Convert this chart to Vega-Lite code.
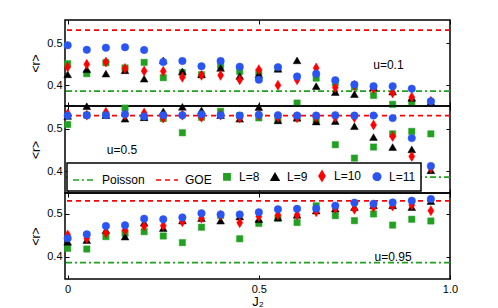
{
  "$schema": "https://vega.github.io/schema/vega-lite/v6.json",
  "padding": {"left": 28, "top": 18, "right": 5, "bottom": 0},
  "config": {
    "view": {"stroke": "black", "strokeWidth": 1.5},
    "font": "Liberation Sans",
    "axis": {"labelFont": "Liberation Sans", "labelFontSize": 11, "titleFont": "Liberation Sans", "titleFontSize": 12, "titleFontWeight": "normal", "labelColor": "black", "titleColor": "black", "tickColor": "black", "tickWidth": 1, "grid": false, "domain": false, "labelFlush": false},
    "legend": {"labelFont": "Liberation Sans", "labelFontSize": 12, "labelColor": "black", "strokeWidth": 1.5},
    "text": {"font": "Liberation Sans", "fontSize": 12}
  },
  "datasets": {
    "lines": [{"s": "Poisson", "r": 0.3863}, {"s": "GOE", "r": 0.5307}],
    "top": [
      {"j": 0, "r": 0.451, "s": "L=8"}, {"j": 0.05, "r": 0.4275, "s": "L=8"}, {"j": 0.1, "r": 0.4535, "s": "L=8"}, {"j": 0.15, "r": 0.441, "s": "L=8"}, {"j": 0.2, "r": 0.4543, "s": "L=8"}, {"j": 0.25, "r": 0.418, "s": "L=8"}, {"j": 0.3, "r": 0.43, "s": "L=8"}, {"j": 0.35, "r": 0.425, "s": "L=8"}, {"j": 0.4, "r": 0.447, "s": "L=8"}, {"j": 0.45, "r": 0.433, "s": "L=8"}, {"j": 0.5, "r": 0.43, "s": "L=8"}, {"j": 0.55, "r": 0.44, "s": "L=8"}, {"j": 0.6, "r": 0.358, "s": "L=8"}, {"j": 0.65, "r": 0.417, "s": "L=8"}, {"j": 0.7, "r": 0.406, "s": "L=8"}, {"j": 0.75, "r": 0.396, "s": "L=8"}, {"j": 0.8, "r": 0.376, "s": "L=8"}, {"j": 0.85, "r": 0.355, "s": "L=8"}, {"j": 0.9, "r": 0.36, "s": "L=8"}, {"j": 0.95, "r": 0.36, "s": "L=8"},
      {"j": 0, "r": 0.426, "s": "L=9"}, {"j": 0.05, "r": 0.438, "s": "L=9"}, {"j": 0.1, "r": 0.4275, "s": "L=9"}, {"j": 0.15, "r": 0.4355, "s": "L=9"}, {"j": 0.2, "r": 0.4155, "s": "L=9"}, {"j": 0.25, "r": 0.459, "s": "L=9"}, {"j": 0.3, "r": 0.433, "s": "L=9"}, {"j": 0.35, "r": 0.426, "s": "L=9"}, {"j": 0.4, "r": 0.441, "s": "L=9"}, {"j": 0.45, "r": 0.422, "s": "L=9"}, {"j": 0.5, "r": 0.426, "s": "L=9"}, {"j": 0.55, "r": 0.439, "s": "L=9"}, {"j": 0.6, "r": 0.459, "s": "L=9"}, {"j": 0.65, "r": 0.398, "s": "L=9"}, {"j": 0.7, "r": 0.384, "s": "L=9"}, {"j": 0.75, "r": 0.379, "s": "L=9"}, {"j": 0.8, "r": 0.395, "s": "L=9"}, {"j": 0.85, "r": 0.385, "s": "L=9"}, {"j": 0.9, "r": 0.37, "s": "L=9"}, {"j": 0.95, "r": 0.36, "s": "L=9"},
      {"j": 0, "r": 0.443, "s": "L=10"}, {"j": 0.05, "r": 0.4495, "s": "L=10"}, {"j": 0.1, "r": 0.455, "s": "L=10"}, {"j": 0.15, "r": 0.44, "s": "L=10"}, {"j": 0.2, "r": 0.434, "s": "L=10"}, {"j": 0.25, "r": 0.433, "s": "L=10"}, {"j": 0.3, "r": 0.419, "s": "L=10"}, {"j": 0.35, "r": 0.4235, "s": "L=10"}, {"j": 0.4, "r": 0.4235, "s": "L=10"}, {"j": 0.45, "r": 0.413, "s": "L=10"}, {"j": 0.5, "r": 0.437, "s": "L=10"}, {"j": 0.55, "r": 0.4, "s": "L=10"}, {"j": 0.6, "r": 0.413, "s": "L=10"}, {"j": 0.65, "r": 0.441, "s": "L=10"}, {"j": 0.7, "r": 0.3945, "s": "L=10"}, {"j": 0.75, "r": 0.4, "s": "L=10"}, {"j": 0.8, "r": 0.392, "s": "L=10"}, {"j": 0.85, "r": 0.382, "s": "L=10"}, {"j": 0.9, "r": 0.372, "s": "L=10"}, {"j": 0.95, "r": 0.362, "s": "L=10"},
      {"j": 0, "r": 0.4945, "s": "L=11"}, {"j": 0.05, "r": 0.484, "s": "L=11"}, {"j": 0.1, "r": 0.489, "s": "L=11"}, {"j": 0.15, "r": 0.49, "s": "L=11"}, {"j": 0.2, "r": 0.4835, "s": "L=11"}, {"j": 0.25, "r": 0.455, "s": "L=11"}, {"j": 0.3, "r": 0.4575, "s": "L=11"}, {"j": 0.35, "r": 0.445, "s": "L=11"}, {"j": 0.4, "r": 0.4575, "s": "L=11"}, {"j": 0.45, "r": 0.444, "s": "L=11"}, {"j": 0.5, "r": 0.413, "s": "L=11"}, {"j": 0.55, "r": 0.443, "s": "L=11"}, {"j": 0.6, "r": 0.421, "s": "L=11"}, {"j": 0.65, "r": 0.4275, "s": "L=11"}, {"j": 0.7, "r": 0.412, "s": "L=11"}, {"j": 0.75, "r": 0.402, "s": "L=11"}, {"j": 0.8, "r": 0.398, "s": "L=11"}, {"j": 0.85, "r": 0.3975, "s": "L=11"}, {"j": 0.9, "r": 0.392, "s": "L=11"}, {"j": 0.95, "r": 0.362, "s": "L=11"}
    ],
    "mid": [
      {"j": 0, "r": 0.51, "s": "L=8"}, {"j": 0.05, "r": 0.532, "s": "L=8"}, {"j": 0.1, "r": 0.532, "s": "L=8"}, {"j": 0.15, "r": 0.5486, "s": "L=8"}, {"j": 0.2, "r": 0.527, "s": "L=8"}, {"j": 0.25, "r": 0.524, "s": "L=8"}, {"j": 0.3, "r": 0.4906, "s": "L=8"}, {"j": 0.35, "r": 0.527, "s": "L=8"}, {"j": 0.4, "r": 0.541, "s": "L=8"}, {"j": 0.45, "r": 0.531, "s": "L=8"}, {"j": 0.5, "r": 0.5256, "s": "L=8"}, {"j": 0.55, "r": 0.52, "s": "L=8"}, {"j": 0.6, "r": 0.527, "s": "L=8"}, {"j": 0.65, "r": 0.52, "s": "L=8"}, {"j": 0.7, "r": 0.4625, "s": "L=8"}, {"j": 0.75, "r": 0.431, "s": "L=8"}, {"j": 0.8, "r": 0.457, "s": "L=8"}, {"j": 0.85, "r": 0.488, "s": "L=8"}, {"j": 0.9, "r": 0.4938, "s": "L=8"}, {"j": 0.95, "r": 0.488, "s": "L=8"},
      {"j": 0, "r": 0.53, "s": "L=9"}, {"j": 0.05, "r": 0.553, "s": "L=9"}, {"j": 0.1, "r": 0.532, "s": "L=9"}, {"j": 0.15, "r": 0.5235, "s": "L=9"}, {"j": 0.2, "r": 0.527, "s": "L=9"}, {"j": 0.25, "r": 0.541, "s": "L=9"}, {"j": 0.3, "r": 0.5516, "s": "L=9"}, {"j": 0.35, "r": 0.543, "s": "L=9"}, {"j": 0.4, "r": 0.532, "s": "L=9"}, {"j": 0.45, "r": 0.5235, "s": "L=9"}, {"j": 0.5, "r": 0.551, "s": "L=9"}, {"j": 0.55, "r": 0.5197, "s": "L=9"}, {"j": 0.6, "r": 0.5256, "s": "L=9"}, {"j": 0.65, "r": 0.517, "s": "L=9"}, {"j": 0.7, "r": 0.518, "s": "L=9"}, {"j": 0.75, "r": 0.506, "s": "L=9"}, {"j": 0.8, "r": 0.4805, "s": "L=9"}, {"j": 0.85, "r": 0.457, "s": "L=9"}, {"j": 0.9, "r": 0.4516, "s": "L=9"}, {"j": 0.95, "r": 0.4024, "s": "L=9"},
      {"j": 0, "r": 0.535, "s": "L=10"}, {"j": 0.05, "r": 0.532, "s": "L=10"}, {"j": 0.1, "r": 0.539, "s": "L=10"}, {"j": 0.15, "r": 0.532, "s": "L=10"}, {"j": 0.2, "r": 0.537, "s": "L=10"}, {"j": 0.25, "r": 0.525, "s": "L=10"}, {"j": 0.3, "r": 0.532, "s": "L=10"}, {"j": 0.35, "r": 0.527, "s": "L=10"}, {"j": 0.4, "r": 0.532, "s": "L=10"}, {"j": 0.45, "r": 0.525, "s": "L=10"}, {"j": 0.5, "r": 0.532, "s": "L=10"}, {"j": 0.55, "r": 0.527, "s": "L=10"}, {"j": 0.6, "r": 0.5256, "s": "L=10"}, {"j": 0.65, "r": 0.527, "s": "L=10"}, {"j": 0.7, "r": 0.527, "s": "L=10"}, {"j": 0.75, "r": 0.5265, "s": "L=10"}, {"j": 0.8, "r": 0.509, "s": "L=10"}, {"j": 0.85, "r": 0.482, "s": "L=10"}, {"j": 0.9, "r": 0.435, "s": "L=10"}, {"j": 0.95, "r": 0.408, "s": "L=10"},
      {"j": 0, "r": 0.531, "s": "L=11"}, {"j": 0.05, "r": 0.532, "s": "L=11"}, {"j": 0.1, "r": 0.532, "s": "L=11"}, {"j": 0.15, "r": 0.534, "s": "L=11"}, {"j": 0.2, "r": 0.529, "s": "L=11"}, {"j": 0.25, "r": 0.532, "s": "L=11"}, {"j": 0.3, "r": 0.532, "s": "L=11"}, {"j": 0.35, "r": 0.534, "s": "L=11"}, {"j": 0.4, "r": 0.532, "s": "L=11"}, {"j": 0.45, "r": 0.531, "s": "L=11"}, {"j": 0.5, "r": 0.533, "s": "L=11"}, {"j": 0.55, "r": 0.532, "s": "L=11"}, {"j": 0.6, "r": 0.531, "s": "L=11"}, {"j": 0.65, "r": 0.531, "s": "L=11"}, {"j": 0.7, "r": 0.532, "s": "L=11"}, {"j": 0.75, "r": 0.531, "s": "L=11"}, {"j": 0.8, "r": 0.531, "s": "L=11"}, {"j": 0.85, "r": 0.525, "s": "L=11"}, {"j": 0.9, "r": 0.478, "s": "L=11"}, {"j": 0.95, "r": 0.4124, "s": "L=11"}
    ],
    "bot": [
      {"j": 0, "r": 0.4197, "s": "L=8"}, {"j": 0.05, "r": 0.418, "s": "L=8"}, {"j": 0.1, "r": 0.447, "s": "L=8"}, {"j": 0.15, "r": 0.455, "s": "L=8"}, {"j": 0.2, "r": 0.4586, "s": "L=8"}, {"j": 0.25, "r": 0.4485, "s": "L=8"}, {"j": 0.3, "r": 0.433, "s": "L=8"}, {"j": 0.35, "r": 0.469, "s": "L=8"}, {"j": 0.4, "r": 0.4965, "s": "L=8"}, {"j": 0.45, "r": 0.442, "s": "L=8"}, {"j": 0.5, "r": 0.478, "s": "L=8"}, {"j": 0.55, "r": 0.49, "s": "L=8"}, {"j": 0.6, "r": 0.48, "s": "L=8"}, {"j": 0.65, "r": 0.519, "s": "L=8"}, {"j": 0.7, "r": 0.496, "s": "L=8"}, {"j": 0.75, "r": 0.4843, "s": "L=8"}, {"j": 0.8, "r": 0.5, "s": "L=8"}, {"j": 0.85, "r": 0.474, "s": "L=8"}, {"j": 0.9, "r": 0.4876, "s": "L=8"}, {"j": 0.95, "r": 0.4836, "s": "L=8"},
      {"j": 0, "r": 0.435, "s": "L=9"}, {"j": 0.05, "r": 0.439, "s": "L=9"}, {"j": 0.1, "r": 0.462, "s": "L=9"}, {"j": 0.15, "r": 0.447, "s": "L=9"}, {"j": 0.2, "r": 0.4797, "s": "L=9"}, {"j": 0.25, "r": 0.467, "s": "L=9"}, {"j": 0.3, "r": 0.4845, "s": "L=9"}, {"j": 0.35, "r": 0.49, "s": "L=9"}, {"j": 0.4, "r": 0.4843, "s": "L=9"}, {"j": 0.45, "r": 0.494, "s": "L=9"}, {"j": 0.5, "r": 0.4876, "s": "L=9"}, {"j": 0.55, "r": 0.4915, "s": "L=9"}, {"j": 0.6, "r": 0.498, "s": "L=9"}, {"j": 0.65, "r": 0.508, "s": "L=9"}, {"j": 0.7, "r": 0.5125, "s": "L=9"}, {"j": 0.75, "r": 0.516, "s": "L=9"}, {"j": 0.8, "r": 0.52, "s": "L=9"}, {"j": 0.85, "r": 0.52, "s": "L=9"}, {"j": 0.9, "r": 0.516, "s": "L=9"}, {"j": 0.95, "r": 0.53, "s": "L=9"},
      {"j": 0, "r": 0.451, "s": "L=10"}, {"j": 0.05, "r": 0.443, "s": "L=10"}, {"j": 0.1, "r": 0.456, "s": "L=10"}, {"j": 0.15, "r": 0.4625, "s": "L=10"}, {"j": 0.2, "r": 0.472, "s": "L=10"}, {"j": 0.25, "r": 0.4725, "s": "L=10"}, {"j": 0.3, "r": 0.482, "s": "L=10"}, {"j": 0.35, "r": 0.49, "s": "L=10"}, {"j": 0.4, "r": 0.497, "s": "L=10"}, {"j": 0.45, "r": 0.4797, "s": "L=10"}, {"j": 0.5, "r": 0.494, "s": "L=10"}, {"j": 0.55, "r": 0.4977, "s": "L=10"}, {"j": 0.6, "r": 0.4977, "s": "L=10"}, {"j": 0.65, "r": 0.505, "s": "L=10"}, {"j": 0.7, "r": 0.5125, "s": "L=10"}, {"j": 0.75, "r": 0.511, "s": "L=10"}, {"j": 0.8, "r": 0.5157, "s": "L=10"}, {"j": 0.85, "r": 0.5185, "s": "L=10"}, {"j": 0.9, "r": 0.521, "s": "L=10"}, {"j": 0.95, "r": 0.5078, "s": "L=10"},
      {"j": 0, "r": 0.443, "s": "L=11"}, {"j": 0.05, "r": 0.4524, "s": "L=11"}, {"j": 0.1, "r": 0.472, "s": "L=11"}, {"j": 0.15, "r": 0.4735, "s": "L=11"}, {"j": 0.2, "r": 0.489, "s": "L=11"}, {"j": 0.25, "r": 0.4875, "s": "L=11"}, {"j": 0.3, "r": 0.492, "s": "L=11"}, {"j": 0.35, "r": 0.5015, "s": "L=11"}, {"j": 0.4, "r": 0.499, "s": "L=11"}, {"j": 0.45, "r": 0.499, "s": "L=11"}, {"j": 0.5, "r": 0.504, "s": "L=11"}, {"j": 0.55, "r": 0.511, "s": "L=11"}, {"j": 0.6, "r": 0.512, "s": "L=11"}, {"j": 0.65, "r": 0.5125, "s": "L=11"}, {"j": 0.7, "r": 0.5195, "s": "L=11"}, {"j": 0.75, "r": 0.5265, "s": "L=11"}, {"j": 0.8, "r": 0.524, "s": "L=11"}, {"j": 0.85, "r": 0.527, "s": "L=11"}, {"j": 0.9, "r": 0.531, "s": "L=11"}, {"j": 0.95, "r": 0.535, "s": "L=11"}
    ]
  },
  "spacing": 0,
  "bounds": "flush",
  "vconcat": [
    {
      "width": 385, "height": 86,
      "layer": [
        {"data": {"name": "lines"}, "mark": {"type": "rule", "strokeWidth": 1.8},
         "encoding": {
           "y": {"field": "r", "type": "quantitative", "scale": {"domain": [0.351, 0.5545], "nice": false, "zero": false}, "axis": null},
           "stroke": {"field": "s", "type": "nominal", "scale": {"domain": ["Poisson", "GOE", "L=8", "L=9", "L=10", "L=11"], "range": ["#1fa01f", "#ff0000", "#22a022", "#000000", "#ff0000", "#2b55f2"]}, "legend": null},
           "strokeDash": {"field": "s", "type": "nominal", "scale": {"domain": ["Poisson", "GOE", "L=8", "L=9", "L=10", "L=11"], "range": [[6, 3, 2, 3], [5, 4], [1, 0], [1, 0], [1, 0], [1, 0]]}, "legend": null}
         }},
        {"data": {"name": "top"}, "mark": {"type": "point", "filled": true, "opacity": 1, "strokeWidth": 0.5},
         "encoding": {
           "x": {"field": "j", "type": "quantitative", "scale": {"domain": [-0.007, 1], "nice": false, "zero": false}, "axis": {"values": [0, 0.5, 1], "tickSize": -4, "labels": false, "title": null}},
           "y": {"field": "r", "type": "quantitative", "axis": {"values": [0.4, 0.5], "format": ".1f", "tickSize": -4, "title": "<r>", "labelPadding": 7, "titlePadding": 4}},
           "fill": {"field": "s", "type": "nominal", "scale": {"domain": ["Poisson", "GOE", "L=8", "L=9", "L=10", "L=11"], "range": ["#1fa01f", "#ff0000", "#22a022", "#000000", "#ff0000", "#2b55f2"]}, "legend": null},
           "stroke": {"field": "s", "type": "nominal", "legend": null},
           "shape": {"field": "s", "type": "nominal", "scale": {"domain": ["Poisson", "GOE", "L=8", "L=9", "L=10", "L=11"], "range": ["stroke", "stroke", "square", "triangle-up", "M0,-1.25L0.75,0L0,1.25L-0.75,0Z", "circle"]}, "legend": null},
           "size": {"field": "s", "type": "nominal", "scale": {"type": "ordinal", "domain": ["Poisson", "GOE", "L=8", "L=9", "L=10", "L=11"], "range": [484, 484, 40, 60, 64, 56]}, "legend": null}
         }},
        {"data": {"values": [{"j": 0.839, "r": 0.449, "t": "u=0.1"}]}, "mark": {"type": "text", "baseline": "middle", "align": "center"},
         "encoding": {
           "x": {"field": "j", "type": "quantitative", "axis": {"orient": "top", "values": [0, 0.5, 1], "tickSize": -4, "labels": false, "title": null}},
           "y": {"field": "r", "type": "quantitative", "axis": {"orient": "right", "values": [0.4, 0.5], "tickSize": -4, "labels": false, "title": null}},
           "text": {"field": "t"}
         }}
      ],
      "resolve": {"axis": {"x": "independent", "y": "independent"}}
    },
    {
      "width": 385, "height": 87,
      "layer": [
        {"data": {"name": "lines"}, "mark": {"type": "rule", "strokeWidth": 1.8},
         "encoding": {
           "y": {"field": "r", "type": "quantitative", "scale": {"domain": [0.349, 0.5535], "nice": false, "zero": false}, "axis": null},
           "stroke": {"field": "s", "type": "nominal", "scale": {"domain": ["Poisson", "GOE", "L=8", "L=9", "L=10", "L=11"], "range": ["#1fa01f", "#ff0000", "#22a022", "#000000", "#ff0000", "#2b55f2"]}, "legend": {"orient": "none", "legendX": 2, "legendY": 57, "direction": "horizontal", "title": null, "strokeColor": "black", "fillColor": "white", "padding": 5, "labelFontSize": 12, "columnPadding": 8, "labelOffset": 6, "symbolStrokeWidth": 1.5}},
           "strokeDash": {"field": "s", "type": "nominal", "scale": {"domain": ["Poisson", "GOE", "L=8", "L=9", "L=10", "L=11"], "range": [[6, 3, 2, 3], [5, 4], [1, 0], [1, 0], [1, 0], [1, 0]]}, "legend": {"orient": "none", "legendX": 2, "legendY": 57, "direction": "horizontal", "title": null, "strokeColor": "black", "fillColor": "white", "padding": 5, "labelFontSize": 12, "columnPadding": 8, "labelOffset": 6, "symbolStrokeWidth": 1.5}}
         }},
        {"data": {"name": "mid"}, "mark": {"type": "point", "filled": true, "opacity": 1, "strokeWidth": 0.5},
         "encoding": {
           "x": {"field": "j", "type": "quantitative", "scale": {"domain": [-0.007, 1], "nice": false, "zero": false}, "axis": {"values": [0, 0.5, 1], "tickSize": -4, "labels": false, "title": null}},
           "y": {"field": "r", "type": "quantitative", "axis": {"values": [0.4, 0.5], "format": ".1f", "tickSize": -4, "title": "<r>", "labelPadding": 7, "titlePadding": 4}},
           "fill": {"field": "s", "type": "nominal", "scale": {"domain": ["Poisson", "GOE", "L=8", "L=9", "L=10", "L=11"], "range": ["#1fa01f", "#ff0000", "#22a022", "#000000", "#ff0000", "#2b55f2"]}, "legend": {"orient": "none", "legendX": 2, "legendY": 57, "direction": "horizontal", "title": null, "strokeColor": "black", "fillColor": "white", "padding": 5, "labelFontSize": 12, "columnPadding": 8, "labelOffset": 6, "symbolStrokeWidth": 1.5}},
           "stroke": {"field": "s", "type": "nominal"},
           "shape": {"field": "s", "type": "nominal", "scale": {"domain": ["Poisson", "GOE", "L=8", "L=9", "L=10", "L=11"], "range": ["stroke", "stroke", "square", "triangle-up", "M0,-1.25L0.75,0L0,1.25L-0.75,0Z", "circle"]}, "legend": {"orient": "none", "legendX": 2, "legendY": 57, "direction": "horizontal", "title": null, "strokeColor": "black", "fillColor": "white", "padding": 5, "labelFontSize": 12, "columnPadding": 8, "labelOffset": 6, "symbolStrokeWidth": 1.5}},
           "size": {"field": "s", "type": "nominal", "scale": {"type": "ordinal", "domain": ["Poisson", "GOE", "L=8", "L=9", "L=10", "L=11"], "range": [484, 484, 40, 60, 64, 56]}, "legend": {"orient": "none", "legendX": 2, "legendY": 57, "direction": "horizontal", "title": null, "strokeColor": "black", "fillColor": "white", "padding": 5, "labelFontSize": 12, "columnPadding": 8, "labelOffset": 6, "symbolStrokeWidth": 1.5}}
         }},
        {"data": {"values": [{"j": 0.142, "r": 0.45, "t": "u=0.5"}]}, "mark": {"type": "text", "baseline": "middle", "align": "center"},
         "encoding": {
           "x": {"field": "j", "type": "quantitative", "axis": {"orient": "top", "values": [0, 0.5, 1], "tickSize": -4, "labels": false, "title": null}},
           "y": {"field": "r", "type": "quantitative", "axis": {"orient": "right", "values": [0.4, 0.5], "tickSize": -4, "labels": false, "title": null}},
           "text": {"field": "t"}
         }}
      ],
      "resolve": {"axis": {"x": "independent", "y": "independent"}}
    },
    {
      "width": 385, "height": 86,
      "layer": [
        {"data": {"name": "lines"}, "mark": {"type": "rule", "strokeWidth": 1.8},
         "encoding": {
           "y": {"field": "r", "type": "quantitative", "scale": {"domain": [0.348, 0.549], "nice": false, "zero": false}, "axis": null},
           "stroke": {"field": "s", "type": "nominal", "scale": {"domain": ["Poisson", "GOE", "L=8", "L=9", "L=10", "L=11"], "range": ["#1fa01f", "#ff0000", "#22a022", "#000000", "#ff0000", "#2b55f2"]}, "legend": null},
           "strokeDash": {"field": "s", "type": "nominal", "scale": {"domain": ["Poisson", "GOE", "L=8", "L=9", "L=10", "L=11"], "range": [[6, 3, 2, 3], [5, 4], [1, 0], [1, 0], [1, 0], [1, 0]]}, "legend": null}
         }},
        {"data": {"name": "bot"}, "mark": {"type": "point", "filled": true, "opacity": 1, "strokeWidth": 0.5},
         "encoding": {
           "x": {"field": "j", "type": "quantitative", "scale": {"domain": [-0.007, 1], "nice": false, "zero": false}, "axis": {"values": [0, 0.5, 1], "tickSize": -4, "labelPadding": 8, "labelExpr": "datum.value == 0 ? '0' : format(datum.value, '.1f')", "title": "J₂", "titleFontSize": 13, "titlePadding": 1}},
           "y": {"field": "r", "type": "quantitative", "axis": {"values": [0.4, 0.5], "format": ".1f", "tickSize": -4, "title": "<r>", "labelPadding": 7, "titlePadding": 4}},
           "fill": {"field": "s", "type": "nominal", "scale": {"domain": ["Poisson", "GOE", "L=8", "L=9", "L=10", "L=11"], "range": ["#1fa01f", "#ff0000", "#22a022", "#000000", "#ff0000", "#2b55f2"]}, "legend": null},
           "stroke": {"field": "s", "type": "nominal", "legend": null},
           "shape": {"field": "s", "type": "nominal", "scale": {"domain": ["Poisson", "GOE", "L=8", "L=9", "L=10", "L=11"], "range": ["stroke", "stroke", "square", "triangle-up", "M0,-1.25L0.75,0L0,1.25L-0.75,0Z", "circle"]}, "legend": null},
           "size": {"field": "s", "type": "nominal", "scale": {"type": "ordinal", "domain": ["Poisson", "GOE", "L=8", "L=9", "L=10", "L=11"], "range": [484, 484, 40, 60, 64, 56]}, "legend": null}
         }},
        {"data": {"values": [{"j": 0.851, "r": 0.4, "t": "u=0.95"}]}, "mark": {"type": "text", "baseline": "middle", "align": "center"},
         "encoding": {
           "x": {"field": "j", "type": "quantitative", "axis": {"orient": "top", "values": [0, 0.5, 1], "tickSize": -4, "labels": false, "title": null}},
           "y": {"field": "r", "type": "quantitative", "axis": {"orient": "right", "values": [0.4, 0.5], "tickSize": -4, "labels": false, "title": null}},
           "text": {"field": "t"}
         }}
      ],
      "resolve": {"axis": {"x": "independent", "y": "independent"}}
    }
  ],
  "resolve": {
    "scale": {"fill": "independent", "stroke": "independent", "shape": "independent", "size": "independent", "strokeDash": "independent"},
    "legend": {"fill": "independent", "stroke": "independent", "shape": "independent", "size": "independent", "strokeDash": "independent"}
  }
}
